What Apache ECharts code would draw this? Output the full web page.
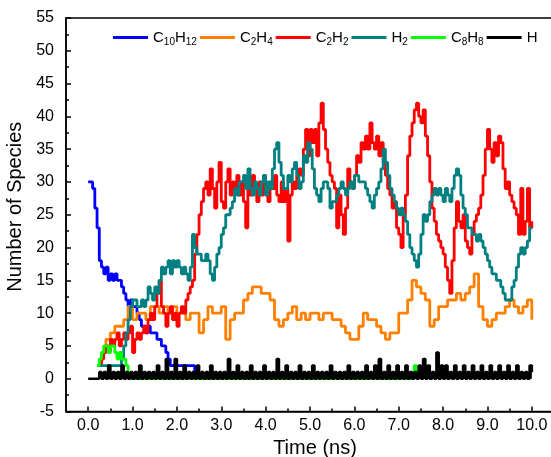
<!DOCTYPE html>
<html>
<head>
<meta charset="utf-8">
<script src="https://cdn.jsdelivr.net/npm/echarts@6/dist/echarts.min.js"></script>
<style>
  html, body { margin: 0; padding: 0; background: #fff; }
</style>
</head>
<body>
<div id="species_chart" style="width: 551px; height: 457px"></div>
<script>
// sampling step of the simulation output (ns)
var step = 0.05

var xTicks = [0, 1, 2, 3, 4, 5, 6, 7, 8, 9, 10]
var xMinorTicks = [0.5, 1.5, 2.5, 3.5, 4.5, 5.5, 6.5, 7.5, 8.5, 9.5]

// C10H12, from t = 0.00
var c10h12 = [30, 30, 29, 26, 23, 18, 17, 16, 17, 15, 16, 15, 16, 15, 15, 14, 13, 12, 11, 12,
  11, 11, 10, 9, 8, 8, 7, 8, 7, 7, 7, 6, 6, 5, 5, 4, 3, 2, 2, 2,
  2, 2, 2, 2, 2, 2, 2, 2, 0]

// C2H4, from t = 0.20, every 0.1 ns
var c2h4 = [2, 4, 6, 7, 8, 8, 9, 11, 9, 10, 10, 9, 11, 11, 10, 11, 10, 11, 10, 10,
  9, 10, 10, 7, 9, 11, 10, 10, 11, 6, 9, 10, 10, 12, 13, 14, 14, 13, 13, 12,
  9, 8, 9, 10, 11, 9, 10, 9, 10, 10, 9, 10, 10, 9, 9, 8, 7, 6, 6, 8,
  10, 9, 9, 8, 7, 6, 7, 7, 10, 10, 12, 15, 14, 13, 12, 8, 9, 11, 11, 12,
  12, 13, 12, 13, 14, 16, 11, 9, 8, 9, 10, 10, 11, 12, 11, 10, 11, 12, 9]

// C2H2, from t = 0.25
var c2h2 = [2, 3, 4, 5, 4, 6, 5, 6, 7, 5,
  6, 7, 6, 7, 8, 4, 6, 7, 6, 7,
  8, 7, 9, 10, 9, 11, 13, 15, 11, 10,
  8, 10, 11, 9, 10, 8, 10, 11, 10, 12,
  13, 14, 15, 19, 22, 25, 27, 29, 30, 28,
  32, 29, 26, 30, 33, 27, 26, 30, 32, 28,
  30, 29, 31, 28, 30, 27, 23, 29, 28, 31,
  29, 27, 30, 28, 31, 28, 27, 30, 29, 31,
  28, 27, 30, 27, 29, 21, 28, 30, 29, 31,
  32, 31, 35, 38, 34, 38, 36, 38, 34, 39,
  42, 38, 35, 33, 31, 30, 29, 23, 28, 25,
  22, 26, 32, 30, 29, 31, 34, 33, 36, 35,
  37, 35, 39, 36, 35, 37, 34, 36, 33, 31,
  29, 28, 26, 27, 23, 22, 20, 25, 28, 34,
  37, 39, 41, 42, 40, 39, 41, 37, 34, 30,
  26, 24, 22, 21, 20, 19, 17, 15, 13, 18,
  23, 27, 24, 23, 25, 21, 20, 19, 22, 24,
  25, 26, 28, 31, 35, 38, 35, 33, 36, 34,
  37, 36, 32, 29, 30, 28, 27, 26, 25, 22,
  29, 22, 24, 29, 23, 24]

// H2, from t = 0.20
var h2 = [2, 2, 2, 2, 2, 2, 2, 2, 2, 2,
  2, 3, 5, 7, 9, 11, 12, 12, 11, 11,
  12, 11, 12, 14, 13, 12, 14, 13, 15, 17,
  16, 17, 18, 16, 18, 17, 18, 17, 16, 17,
  16, 15, 17, 22, 20, 19, 19, 18, 18, 19,
  18, 16, 15, 17, 19, 20, 22, 23, 25, 25,
  26, 27, 29, 28, 30, 30, 31, 29, 32, 29,
  28, 30, 29, 28, 30, 31, 28, 30, 29, 32,
  35, 36, 33, 31, 29, 29, 31, 30, 32, 33,
  31, 29, 30, 34, 33, 36, 35, 32, 29, 28,
  27, 29, 30, 30, 29, 26, 27, 27, 28, 29,
  30, 29, 28, 29, 30, 29, 31, 31, 30, 30,
  30, 29, 28, 27, 26, 28, 29, 30, 32, 35,
  33, 31, 29, 28, 27, 26, 25, 26, 25, 24,
  22, 20, 19, 18, 17, 19, 22, 25, 24, 25,
  27, 28, 29, 28, 29, 28, 27, 29, 28, 27,
  29, 31, 32, 31, 28, 26, 25, 23, 23, 22,
  22, 21, 22, 21, 20, 19, 18, 17, 16, 16,
  15, 15, 14, 13, 12, 12, 12, 14, 15, 17,
  19, 20, 19, 20, 21, 23, 23]

// C8H8: [time, count]
var c8h8 = [[0.2, 2], [0.25, 3], [0.3, 4], [0.35, 5], [0.4, 5], [0.45, 4], [0.5, 5],
  [0.55, 5], [0.6, 4], [0.65, 3], [0.7, 4], [0.75, 3], [0.8, 3], [0.85, 2], [0.9, 0],
  [7.3, null], [7.3, 1], [7.35, 2], [7.4, 1]]

// H, from t = 0.00
var hAtom = [0, 0, 0, 0, 0, 1, 0, 1, 0, 2, 0, 1, 0, 1, 0, 2, 0, 1, 0, 1,
  0, 1, 0, 2, 0, 1, 0, 1, 0, 1, 0, 2, 0, 1, 0, 3, 0, 1, 0, 3,
  0, 1, 0, 2, 0, 1, 0, 1, 0, 2, 0, 1, 0, 1, 0, 2, 0, 1, 0, 1,
  0, 1, 0, 3, 0, 1, 0, 2, 0, 1, 0, 1, 0, 2, 0, 1, 0, 1, 0, 2,
  0, 1, 0, 1, 0, 3, 0, 1, 0, 2, 0, 1, 0, 1, 0, 2, 0, 1, 0, 1,
  0, 2, 0, 1, 0, 1, 0, 1, 0, 2, 0, 1, 0, 1, 0, 1, 0, 2, 0, 1,
  0, 1, 0, 1, 0, 2, 0, 1, 0, 2, 0, 3, 0, 1, 0, 2, 0, 1, 0, 2,
  0, 1, 0, 2, 0, 1, 0, 1, 0, 2, 0, 3, 0, 2, 0, 1, 0, 4, 0, 2,
  0, 2, 0, 1, 0, 2, 0, 1, 0, 2, 0, 1, 0, 2, 0, 1, 0, 2, 0, 1,
  0, 2, 0, 1, 0, 2, 0, 1, 0, 2, 0, 1, 0, 2, 0, 1, 0, 1, 0, 2,
  1]

function toPairs (start, dt, vals) {
  return vals.map(function (v, i) {
    return [+(start + i * dt).toFixed(2), v]
  })
}

// subscript the digits of a formula
function chem (name) {
  return name.replace(/([A-Za-z]+)|(\d+)/g, function (m, a, d) {
    return a ? '{n|' + a + '}' : '{s|' + d + '}'
  })
}

function line (name, color, data, width) {
  return {
    name: name,
    type: 'line',
    step: 'end',
    showSymbol: false,
    symbol: 'none',
    data: data,
    lineStyle: { color: color, width: width },
    itemStyle: { color: color }
  }
}

var font = 'Arial, "Liberation Sans", sans-serif'
var chart = echarts.init(document.getElementById('species_chart'))

var hSeries = line('H', '#000000', toPairs(0, step, hAtom), 2.6)
hSeries.areaStyle = { color: '#000', opacity: 1, origin: 0 } // dense 0/1 band looks solid

chart.setOption({
  animation: false,
  textStyle: { fontFamily: font, color: '#000' },
  grid: {
    left: 66,
    right: -3,
    top: 18,
    bottom: 45.5,
    show: true,
    borderColor: '#000',
    borderWidth: 1.5,
    outerBoundsMode: 'none'
  },
  legend: {
    left: 113,
    top: 30,
    width: 440,
    padding: 0,
    icon: 'rect',
    itemWidth: 35,
    itemHeight: 3,
    itemGap: 3,
    formatter: chem,
    textStyle: {
      fontFamily: font,
      color: '#000',
      rich: {
        n: { fontSize: 15, lineHeight: 20, verticalAlign: 'middle', fontFamily: font },
        s: { fontSize: 10, lineHeight: 12, verticalAlign: 'bottom', fontFamily: font }
      }
    },
    data: ['C10H12', 'C2H4', 'C2H2', 'H2', 'C8H8', 'H']
  },
  xAxis: [
    {
      type: 'value',
      min: -0.5,
      max: 10.5,
      name: 'Time (ns)',
      nameLocation: 'middle',
      nameGap: 25,
      nameTextStyle: { fontSize: 20, fontFamily: font, color: '#000', padding: [0, 0, 0, 10] },
      axisLine: { onZero: false, lineStyle: { color: '#000', width: 1.5 } },
      axisTick: { inside: true, length: 5, customValues: xTicks, lineStyle: { color: '#000', width: 1.5 } },
      axisLabel: {
        customValues: xTicks,
        margin: 6,
        fontSize: 16,
        color: '#000',
        fontFamily: font,
        formatter: function (v) { return v.toFixed(1) }
      },
      splitLine: { show: false }
    },
    {
      // minor ticks only
      type: 'value',
      position: 'bottom',
      min: -0.5,
      max: 10.5,
      axisLine: { show: false, onZero: false },
      axisTick: { inside: true, length: 3, customValues: xMinorTicks, lineStyle: { color: '#000', width: 1.5 } },
      axisLabel: { show: false },
      splitLine: { show: false }
    }
  ],
  yAxis: {
    type: 'value',
    min: -5,
    max: 55,
    interval: 5,
    name: 'Number of Species',
    nameLocation: 'middle',
    nameGap: 36,
    nameTextStyle: { fontSize: 20, fontFamily: font, color: '#000', padding: [0, 0, 0, 16] },
    axisLine: { show: true, onZero: false, lineStyle: { color: '#000', width: 1.5 } },
    axisTick: { show: true, inside: true, length: 5, lineStyle: { color: '#000', width: 1.5 } },
    minorTick: { show: true, splitNumber: 2, length: 3, lineStyle: { color: '#000', width: 1.5 } },
    axisLabel: { margin: 12, fontSize: 16, color: '#000', fontFamily: font },
    splitLine: { show: false }
  },
  series: [
    line('C10H12', '#0000ff', toPairs(0, step, c10h12), 2.8),
    line('C2H4', '#ff8000', toPairs(0.2, 0.1, c2h4), 2.8),
    line('C2H2', '#ff0000', toPairs(0.25, step, c2h2), 2.8),
    line('H2', '#008080', toPairs(0.2, step, h2), 2.8),
    line('C8H8', '#00ff00', c8h8, 2.8),
    hSeries
  ]
})
</script>
</body>
</html>
